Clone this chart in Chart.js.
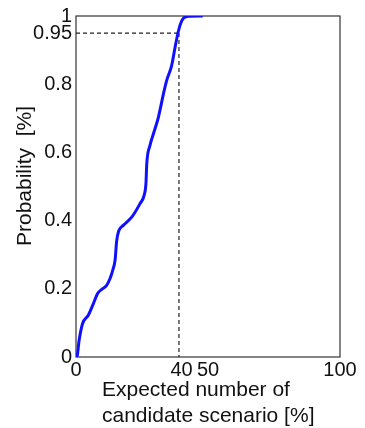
<!DOCTYPE html>
<html>
<head>
<meta charset="utf-8">
<script src="https://cdn.jsdelivr.net/npm/chart.js@4/dist/chart.umd.min.js"></script>
<style>
  html, body { margin: 0; padding: 0; background: #fff; }
  #wrap { width: 365px; height: 428px; }
</style>
</head>
<body>
<div id="wrap"><canvas id="cdfChart" width="365" height="428"></canvas></div>
<script>
// expected number of candidate scenario [%]
const scenarioPct = [0, 0.3, 1.2, 2.5, 4.7, 6.5, 8.2, 10, 11.6, 12.9, 13.9, 14.8, 15.4, 16.2, 17.9, 21.1, 24.2, 25.8, 26.5, 26.8, 28, 29.3, 31.2, 33.1, 34.3, 36.2, 37.5, 38.8, 40.0, 41.3, 43.2, 48];
// cumulative probability
const probability = [0, 0, 0.05, 0.098, 0.123, 0.155, 0.186, 0.2, 0.21, 0.23, 0.254, 0.284, 0.34, 0.37, 0.386, 0.41, 0.449, 0.474, 0.51, 0.566, 0.62, 0.654, 0.703, 0.771, 0.81, 0.854, 0.907, 0.956, 0.985, 0.997, 0.999, 1.0];

const xTicks = [0, 40, 50, 100];
const yTicks = [0, 0.2, 0.4, 0.6, 0.8, 0.95, 1];

// 95% marker
const markX = 39;
const markY = 0.95;

const fontFam = 'Arial, "Liberation Sans", sans-serif';

const cdfPoints = scenarioPct.map((v, i) => ({ x: v, y: probability[i] }));

// box around the plot area
const frame = {
  id: 'frame',
  beforeDatasetsDraw(chart) {
    const a = chart.chartArea;
    const ctx = chart.ctx;
    ctx.save();
    ctx.strokeStyle = '#333';
    ctx.lineWidth = 1.2;
    ctx.strokeRect(a.left, a.top, a.right - a.left, a.bottom - a.top);
    ctx.restore();
  }
};

// axis titles (x title is left aligned on two lines)
const axisTitles = {
  id: 'axisTitles',
  afterDraw(chart) {
    const ctx = chart.ctx;
    ctx.save();
    ctx.fillStyle = '#111';
    ctx.font = '21px ' + fontFam;
    ctx.textAlign = 'left';
    ctx.textBaseline = 'alphabetic';
    ctx.fillText('Expected number of', 102, 396);
    ctx.fillText('candidate scenario [%]', 102, 422);

    ctx.translate(31, 176);
    ctx.rotate(-Math.PI / 2);
    ctx.textAlign = 'center';
    ctx.fillText('Probability  [%]', 0, 0);
    ctx.restore();
  }
};

new Chart(document.getElementById('cdfChart').getContext('2d'), {
  type: 'scatter',
  data: {
    datasets: [
      {
        data: cdfPoints,
        showLine: true,
        borderColor: '#1010ff',
        borderWidth: 3,
        pointRadius: 0,
        cubicInterpolationMode: 'monotone'
      },
      {
        data: [{ x: 0, y: markY }, { x: markX, y: markY }],
        showLine: true,
        borderColor: '#222',
        borderWidth: 1.2,
        borderDash: [4, 3],
        pointRadius: 0
      },
      {
        data: [{ x: markX, y: markY }, { x: markX, y: 0 }],
        showLine: true,
        borderColor: '#222',
        borderWidth: 1.2,
        borderDash: [4, 3],
        pointRadius: 0
      }
    ]
  },
  options: {
    responsive: false,
    animation: false,
    layout: { padding: { left: 0, right: 25, top: 14, bottom: 0 } },
    plugins: {
      legend: { display: false },
      tooltip: { enabled: false }
    },
    scales: {
      x: {
        type: 'linear',
        min: 0,
        max: 100,
        grid: { display: false, drawTicks: false },
        border: { display: false },
        afterBuildTicks: (s) => { s.ticks = xTicks.map(v => ({ value: v })); },
        afterFit: (s) => { s.height = 71; },
        ticks: {
          color: '#111',
          padding: 1,
          maxRotation: 0,
          autoSkip: false,
          font: { size: 20, family: fontFam }
        }
      },
      y: {
        min: 0,
        max: 1,
        grid: { display: false, drawTicks: false },
        border: { display: false },
        afterBuildTicks: (s) => { s.ticks = yTicks.map(v => ({ value: v })); },
        afterFit: (s) => { s.width = 76; },
        ticks: {
          color: '#111',
          padding: 4,
          autoSkip: false,
          font: { size: 20, family: fontFam },
          callback: (v) => String(v)
        }
      }
    }
  },
  plugins: [frame, axisTitles]
});
</script>
</body>
</html>
